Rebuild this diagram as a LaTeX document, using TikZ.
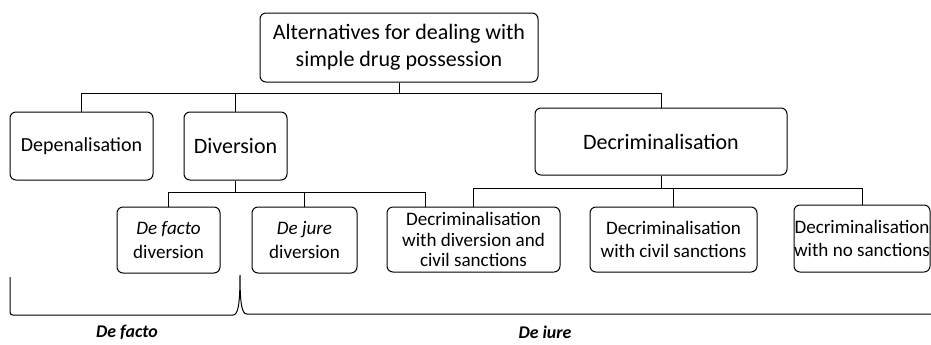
\documentclass[tikz,border=0pt]{standalone}
\usepackage{fontspec}
\setmainfont{Carlito}

\begin{document}
\begin{tikzpicture}[x=0.75pt,y=0.75pt,yscale=-1,xscale=1,
  box/.style={draw, rounded corners=4.5pt, line width=0.75pt, align=center, inner sep=0pt},
  bigtext/.style={font=\fontsize{16.5}{20}\selectfont},
  smalltext/.style={font=\fontsize{14.3}{17.5}\selectfont},
  link/.style={line width=0.75pt},
  lawlabel/.style={font=\fontsize{13.4}{16}\selectfont\bfseries\itshape}]
\useasboundingbox (0,0) rectangle (931,344);

%Shape: Rectangle [top]
\node[box, bigtext, minimum width=208.5pt, minimum height=51.75pt] (top) at (399,47.5) {Alternatives for dealing with\\simple drug possession};
%Shape: Rectangle [second row]
\node[box, font=\fontsize{15}{18}\selectfont, minimum width=107.25pt, minimum height=51pt] (dep) at (81.5,146) {Depenalisation};
\node[box, bigtext, minimum width=77.25pt, minimum height=51pt] (div) at (235.5,146) {Diversion};
\node[box, bigtext, minimum width=189pt, minimum height=50.25pt] (dec) at (661,141.5) {Decriminalisation};
%Shape: Rectangle [third row]
\node[box, smalltext, minimum width=77.25pt, minimum height=49.5pt] (dfd) at (168.5,240) {\textit{De facto}\\diversion};
\node[box, smalltext, minimum width=78.75pt, minimum height=49.5pt] (djd) at (304.5,240) {\textit{De jure}\\diversion};
\node[box, font=\fontsize{14.3}{15.5}\selectfont, minimum width=129.75pt, minimum height=48.75pt] (dwd) at (473.5,239.5) {Decriminalisation\\with diversion and\\civil sanctions};
\node[box, smalltext, minimum width=125.25pt, minimum height=48.75pt] (dcs) at (673.5,239.5) {Decriminalisation\\with civil sanctions};
\node[box, smalltext, minimum width=102pt, minimum height=50.25pt] (dns) at (862,238.5) {Decriminalisation\\with no sanctions};
\coordinate (dwd-div) at (425,207);

%Straight Lines [connectors]
\draw[link] (top.south) -- ++(0,11) -| (dep.north);
\draw[link] (top.south) -- ++(0,11) -| (div.north);
\draw[link] (top.south) -- ++(0,11) -| (dec.north);
\draw[link] (div.south) -- ++(0,12) -| (dfd.north);
\draw[link] (div.south) -- ++(0,12) -| (djd.north);
\draw[link] (div.south) -- ++(0,12) -| (dwd-div);
\draw[link] (dec.south) -- ++(0,13) -| (dwd.north);
\draw[link] (dec.south) -- ++(0,13) -| (dcs.north);
\draw[link] (dec.south) -- ++(0,13) -| (dns.north);

%Shape: Brace
\draw[link] (10,277) -- (10,312) .. controls (10,314) and (11,315) .. (13,315) -- (233,315) .. controls (238,315) and (240,305) .. (240,275) .. controls (240,305) and (242,314) .. (247,314) -- (931,314);

% Text Node
\node[lawlabel] (facto) at (127,332) {De facto};
% Text Node
\node[lawlabel] (iure) at (545,332) {De iure};

\end{tikzpicture}
\end{document}
